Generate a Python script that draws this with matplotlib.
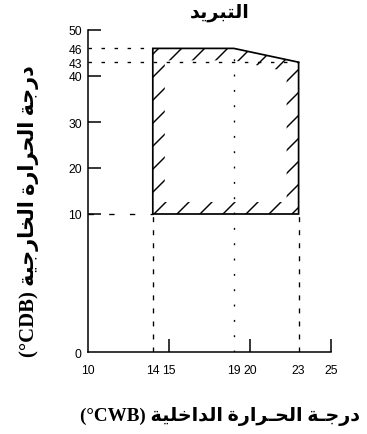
import numpy as np
import matplotlib
matplotlib.use("Agg")
import matplotlib.pyplot as plt
from matplotlib.patches import Polygon

# data
x_ticks = [10, 14, 15, 19, 20, 23, 25]
x_marked = [15, 20, 25]
y_ticks = [0, 10, 20, 30, 40, 43, 46, 50]
y_marked = [10, 20, 30, 40, 50]
zone_x = [14, 14, 19, 23, 23]
zone_y = [10, 46, 46, 43, 10]

title_ar = "التبريد"
xlabel_ar = "درجـة الحـرارة الداخلية"
xlabel_lat = "(°CWB)"
ylabel_ar = "درجة الحرارة الخارجية"
ylabel_lat = "(°CDB)"

# minimal arabic shaping: (isolated, final, initial, medial)
AR = {
    "ا": ("\uFE8D", "\uFE8E", None, None),
    "ب": ("\uFE8F", "\uFE90", "\uFE91", "\uFE92"),
    "ة": ("\uFE93", "\uFE94", None, None),
    "ت": ("\uFE95", "\uFE96", "\uFE97", "\uFE98"),
    "ج": ("\uFE9D", "\uFE9E", "\uFE9F", "\uFEA0"),
    "ح": ("\uFEA1", "\uFEA2", "\uFEA3", "\uFEA4"),
    "خ": ("\uFEA5", "\uFEA6", "\uFEA7", "\uFEA8"),
    "د": ("\uFEA9", "\uFEAA", None, None),
    "ر": ("\uFEAD", "\uFEAE", None, None),
    "ل": ("\uFEDD", "\uFEDE", "\uFEDF", "\uFEE0"),
    "ي": ("\uFEF1", "\uFEF2", "\uFEF3", "\uFEF4"),
    "ـ": ("\u0640", "\u0640", "\u0640", "\u0640"),
}


def shape_ar(text):
    out = []
    for i, ch in enumerate(text):
        if ch not in AR:
            out.append(ch)
            continue
        prev = text[i - 1] if i > 0 else ""
        nxt = text[i + 1] if i + 1 < len(text) else ""
        p = prev in AR and AR[prev][2] is not None
        n = nxt in AR and AR[ch][2] is not None
        iso, fin, ini, med = AR[ch]
        if p and n:
            out.append(med)
        elif p:
            out.append(fin)
        elif n:
            out.append(ini)
        else:
            out.append(iso)
    return "".join(reversed(out))


def fwd(y):
    y = np.asarray(y, float)
    return np.where(y < 10, 3 * y, y + 20)


def inv(t):
    t = np.asarray(t, float)
    return np.where(t < 30, t / 3, t - 20)


W, H, DPI = 367, 435, 138
plt.rcParams["lines.scale_dashes"] = False
plt.rcParams["hatch.linewidth"] = 0.75
fig = plt.figure(figsize=(W / DPI, H / DPI), dpi=DPI)
ax = fig.add_axes([88 / W, 1 - 353 / H, 243 / W, 322 / H])
ax.set_yscale("function", functions=(fwd, inv))
ax.set_xlim(10, 25)
ax.set_ylim(0, 50)
for s in ["top", "right"]:
    ax.spines[s].set_visible(False)
for s in ["left", "bottom"]:
    ax.spines[s].set_linewidth(0.8)

ax.set_xticks(x_ticks)
ax.set_xticklabels([str(v) for v in x_ticks], fontsize=6.3, family="Liberation Sans")
ax.set_yticks(y_ticks)
ax.set_yticklabels([str(v) for v in y_ticks], fontsize=6.3, family="Liberation Sans")
ax.yaxis.set_minor_locator(matplotlib.ticker.NullLocator())
ax.tick_params(axis="both", direction="in", length=6.8, width=0.8)
ax.tick_params(axis="x", pad=6.5)
ax.tick_params(axis="y", pad=3.2)
for v, t in zip(x_ticks, ax.xaxis.get_major_ticks()):
    t.tick1line.set_visible(v in x_marked)
for v, t in zip(y_ticks, ax.yaxis.get_major_ticks()):
    t.tick1line.set_visible(v in y_marked)

# hatched band along the inside of the zone
bx, by = 0.74, 2.6
x0, x1, xm = zone_x[0], zone_x[-1], zone_x[2]
y0, ytop, yend = zone_y[0], zone_y[1], zone_y[3]
inner_x = [x0 + bx, x0 + bx, xm, x1 - bx, x1 - bx]
inner_y = [y0 + by, ytop - by, ytop - by,
           np.interp(x1 - bx, [xm, x1], [ytop, yend]) - by, y0 + by]
zone = list(zip(zone_x, zone_y))
ax.add_patch(Polygon(zone, closed=True, facecolor="none", edgecolor="black",
                     linewidth=0, hatch="//", zorder=2))
ax.add_patch(Polygon(list(zip(inner_x, inner_y)), closed=True, facecolor="white",
                     edgecolor="none", zorder=3))
ax.add_patch(Polygon(zone, closed=True, facecolor="none", edgecolor="black",
                     linewidth=0.9, zorder=5))

# guide lines
lw = 0.7
ax.plot([10, x0], [ytop, ytop], color="black", lw=lw, dashes=(1.8, 5.0), zorder=4)
ax.plot([10, x1], [yend, yend], color="black", lw=lw, dashes=(1.8, 5.0), zorder=4)
ax.plot([10, x0], [y0, y0], color="black", lw=lw, dashes=(2.8, 8.0), zorder=4)
ax.plot([x0, x0], [0, y0], color="black", lw=lw, dashes=(2.6, 4.2), zorder=4)
ax.plot([x1, x1], [0, y0], color="black", lw=lw, dashes=(2.6, 4.2), zorder=4)
ax.plot([xm, xm], [0, ytop], color="black", lw=lw, dashes=(1.0, 7.0), zorder=4)

lab_font = ["Liberation Serif", "DejaVu Sans"]
fig.text(220 / W, 1 - 12.5 / H, shape_ar(title_ar), ha="center", va="center",
         fontsize=10, weight="bold", family=lab_font)
fig.text(220 / W, 1 - 417 / H, xlabel_lat + " " + shape_ar(xlabel_ar),
         ha="center", va="center", fontsize=10, weight="bold", family=lab_font)
fig.text(29 / W, 1 - 211 / H, ylabel_lat + " " + shape_ar(ylabel_ar),
         ha="center", va="center", rotation=90, fontsize=10.8, weight="bold",
         family=lab_font)

fig.savefig("out.png", dpi=DPI)
